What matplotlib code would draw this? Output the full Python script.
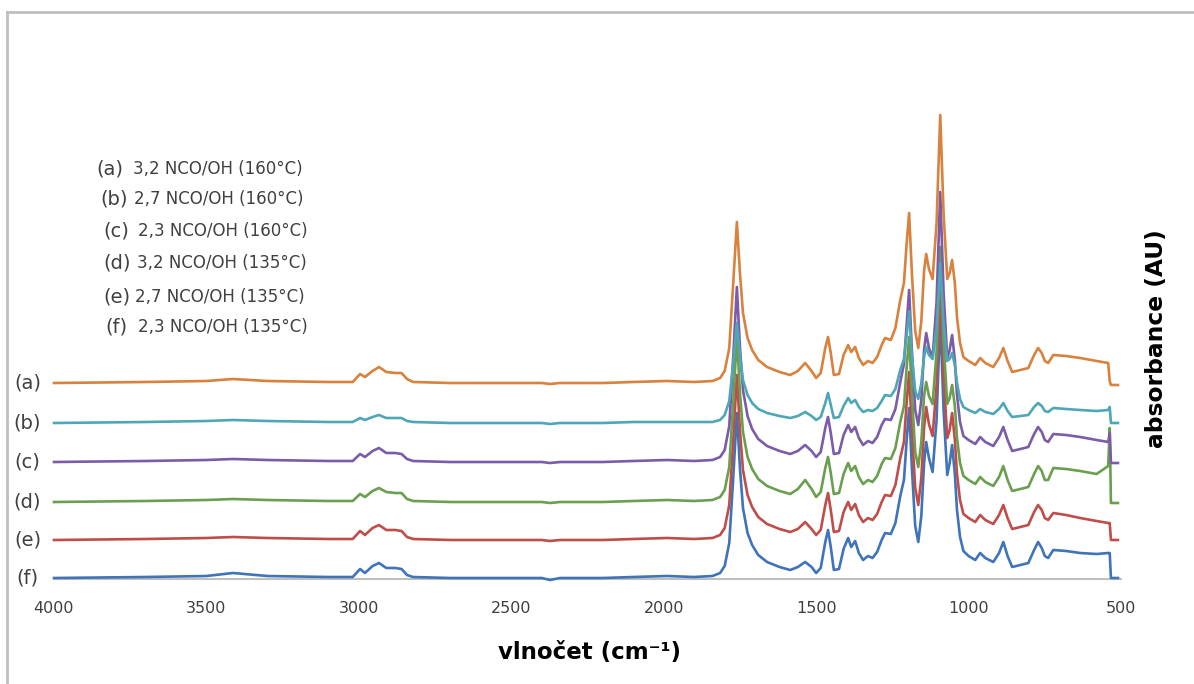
import matplotlib
matplotlib.use("Agg")
import matplotlib.pyplot as plt
from matplotlib.lines import Line2D

# ---------------- data ----------------
wavenumber = [
    4000, 3700, 3500, 3413, 3300, 3100, 3020, 2996, 2980, 2955, 2934, 2910, 2880, 2860, 2842, 2822,
    2700, 2500, 2400, 2373, 2340, 2200, 2100, 1989, 1900, 1840,
    1815, 1800, 1785, 1772, 1760, 1750, 1740, 1725, 1710, 1690, 1661, 1620, 1585, 1560, 1536, 1515,
    1500, 1485, 1470, 1461, 1452, 1442,
    1425, 1410, 1395, 1385, 1372, 1360, 1346, 1330, 1315, 1300, 1285, 1274, 1255, 1240, 1224, 1212,
    1203, 1195,
    1186, 1175, 1165, 1155, 1146, 1139, 1130, 1118, 1105, 1093, 1082, 1070, 1062, 1054, 1045, 1038,
    1028, 1017,
    1000, 978, 962, 945, 919, 900, 886, 872, 857, 830, 804, 785, 772, 760, 750, 739, 722, 680, 634,
    580, 542, 537, 533, 510,
]

abs_a = [0, 1, 2, 4, 2, 1, 1, 9, 6, 12, 16, 11, 10, 10, 4, 1, 0, 0, 0, -1, 0, 0, 1, 2, 1, 2,
         5, 12, 35, 100, 161, 110, 70, 45, 33, 23, 16, 11, 8, 12, 20, 12, 5, 10, 35, 46, 30, 8,
         9, 28, 38, 31, 36, 25, 18, 22, 20, 26, 38, 45, 43, 55, 83, 100, 140, 170,
         110, 52, 35, 62, 112, 129, 114, 104, 160, 268, 170, 104, 110, 123, 100, 66, 40, 26,
         22, 18, 25, 20, 16, 25, 35, 22, 11, 13, 15, 28, 35, 30, 22, 20, 28, 27, 25, 22, 20, 2, -2, -2]

abs_b = [0, 1, 2, 3, 2, 1, 1, 5, 3, 6, 8, 5, 5, 5, 2, 1, 0, 0, 0, -1, 0, 0, 1, 1, 1, 1,
         3, 8, 22, 60, 100, 68, 43, 28, 20, 14, 10, 7, 5, 7, 11, 7, 3, 6, 20, 30, 18, 5,
         6, 17, 25, 20, 23, 16, 11, 13, 12, 15, 22, 28, 27, 34, 53, 64, 88, 112,
         68, 32, 24, 40, 66, 76, 68, 64, 95, 160, 100, 62, 64, 70, 58, 40, 24, 16,
         13, 10, 14, 11, 9, 14, 20, 12, 6, 7, 8, 16, 20, 17, 12, 11, 15, 14, 13, 12, 13, 16, 0, 0]

abs_c = [0, 1, 2, 3, 2, 1, 1, 8, 5, 11, 14, 9, 9, 8, 3, 1, 0, 0, 0, -1, 0, 0, 1, 2, 1, 2,
         5, 12, 36, 105, 175, 115, 72, 46, 33, 23, 16, 11, 8, 11, 17, 11, 5, 10, 34, 45, 29, 8,
         9, 27, 37, 30, 35, 24, 17, 21, 19, 25, 37, 43, 42, 53, 80, 98, 138, 172,
         112, 52, 37, 62, 112, 129, 114, 104, 160, 270, 170, 104, 112, 127, 102, 67, 40, 26,
         22, 18, 25, 20, 16, 25, 35, 22, 11, 13, 15, 28, 35, 30, 22, 20, 28, 27, 25, 22, 20, 29, -1, -1]

abs_d = [0, 1, 2, 3, 2, 1, 1, 8, 5, 11, 14, 10, 9, 9, 3, 1, 0, 0, 0, -1, 0, 0, 1, 2, 1, 2,
         5, 12, 35, 100, 165, 110, 70, 45, 33, 23, 16, 11, 8, 13, 22, 13, 5, 10, 34, 45, 29, 8,
         9, 28, 39, 31, 36, 25, 18, 22, 20, 26, 38, 44, 43, 54, 80, 96, 135, 165,
         108, 50, 35, 60, 106, 120, 106, 98, 150, 255, 160, 98, 104, 117, 96, 64, 39, 26,
         22, 18, 25, 20, 16, 25, 36, 22, 11, 13, 15, 28, 36, 31, 22, 22, 34, 33, 31, 28, 36, 74, -1, -1]

abs_e = [0, 1, 2, 3, 2, 1, 1, 9, 5, 12, 15, 10, 10, 9, 3, 1, 0, 0, 0, -1, 0, 0, 1, 2, 1, 2,
         5, 12, 35, 100, 165, 110, 70, 45, 33, 23, 16, 11, 8, 11, 18, 11, 5, 10, 35, 47, 30, 8,
         9, 28, 38, 30, 36, 25, 18, 22, 20, 26, 38, 45, 44, 55, 82, 98, 138, 168,
         110, 52, 35, 62, 112, 133, 116, 104, 155, 260, 165, 102, 110, 127, 100, 66, 40, 26,
         22, 18, 25, 20, 16, 25, 35, 22, 11, 13, 15, 28, 35, 30, 22, 20, 27, 25, 22, 19, 17, 17, 0, 0]

abs_f = [0, 1, 2, 5, 2, 1, 1, 9, 5, 12, 15, 10, 10, 9, 3, 1, 0, 0, 0, -2, 0, 0, 1, 2, 1, 2,
         5, 12, 35, 100, 165, 110, 70, 45, 33, 23, 16, 11, 8, 11, 16, 11, 5, 10, 36, 48, 31, 8,
         9, 29, 40, 31, 37, 25, 18, 22, 20, 26, 38, 45, 44, 55, 82, 98, 138, 170,
         110, 52, 36, 62, 115, 136, 120, 106, 158, 262, 168, 103, 115, 133, 104, 68, 41, 27,
         22, 18, 25, 20, 16, 25, 36, 22, 11, 13, 15, 28, 36, 30, 22, 20, 28, 27, 25, 24, 25, 25, 0, 0]

series_keys = ["(a)", "(b)", "(c)", "(d)", "(e)", "(f)"]
series_desc = ["3,2 NCO/OH (160°C)", "2,7 NCO/OH (160°C)", "2,3 NCO/OH (160°C)",
               "3,2 NCO/OH (135°C)", "2,7 NCO/OH (135°C)", "2,3 NCO/OH (135°C)"]
offsets = [195, 155, 116, 76, 38, 0]
spectra = [abs_a, abs_b, abs_c, abs_d, abs_e, abs_f]
colors = ["#D8823E", "#4FA6B6", "#7A5CA8", "#6A9F4F", "#BF4D4A", "#3F74B9"]
xticks = [4000, 3500, 3000, 2500, 2000, 1500, 1000, 500]

for s in spectra:
    assert len(s) == len(wavenumber)

# ---------------- figure ----------------
W, H = 1194, 684
fig = plt.figure(figsize=(W / 100, H / 100), dpi=100)
plt.rcParams['font.family'] = ['DejaVu Sans']

ax_left, ax_right, ax_top, ax_bottom = 54, 1121, 115, 579
ax = fig.add_axes([ax_left / W, 1 - ax_bottom / H, (ax_right - ax_left) / W, (ax_bottom - ax_top) / H])
ax.set_xlim(4000, 500)
ax.set_ylim(-1, 463)

order = [5, 4, 3, 2, 1, 0]
for z, i in enumerate(order):
    ax.plot(wavenumber, [v + offsets[i] for v in spectra[i]], color=colors[i], lw=1.9,
            solid_joinstyle="round", zorder=3 + z, clip_on=False)

for sp in ["top", "right", "left"]:
    ax.spines[sp].set_visible(False)
ax.spines["bottom"].set_color("#BFBFBF")
ax.spines["bottom"].set_linewidth(1.5)
ax.spines["bottom"].set_zorder(2)
ax.set_yticks([])
ax.set_xticks(xticks)
ax.set_xticklabels([str(t) for t in xticks])
ax.tick_params(axis="x", length=0, pad=16, labelsize=11.5, labelcolor="#404040")

# left series labels
for i, key in enumerate(series_keys):
    ax.annotate(key, xy=(4000, offsets[i]), xytext=(-19, 0), textcoords="offset points",
                ha="center", va="center", fontsize=14, color="#404040", annotation_clip=False)

# legend text block
legend_y = [169, 199, 231, 263, 297, 327]
prefix_x = [96, 100, 103, 103, 103, 105]
desc_x = [133, 134, 138, 137, 135, 138]
for i in range(6):
    fig.text(prefix_x[i] / W, 1 - legend_y[i] / H, series_keys[i], ha="left", va="center",
             fontsize=14, color="#404040")
    fig.text(desc_x[i] / W, 1 - legend_y[i] / H, series_desc[i], ha="left", va="center",
             fontsize=12, color="#404040")

# axis titles
fig.text(590 / W, 1 - 652 / H, "vlnočet (cm⁻¹)", ha="center", va="center",
         fontsize=16.5, fontweight="bold", color="black")
fig.text(1157 / W, 1 - 339 / H, "absorbance (AU)", ha="center", va="center", rotation=90,
         fontsize=16.8, fontweight="bold", color="black")

# outer frame (left and top edges visible in the reference)
fig.add_artist(Line2D([7 / W, 7 / W], [0, 1 - 12 / H], transform=fig.transFigure,
                      color="#BFBFBF", lw=2))
fig.add_artist(Line2D([7 / W, 1], [1 - 12 / H, 1 - 12 / H], transform=fig.transFigure,
                      color="#BFBFBF", lw=2))

fig.savefig("out.png", dpi=100)
